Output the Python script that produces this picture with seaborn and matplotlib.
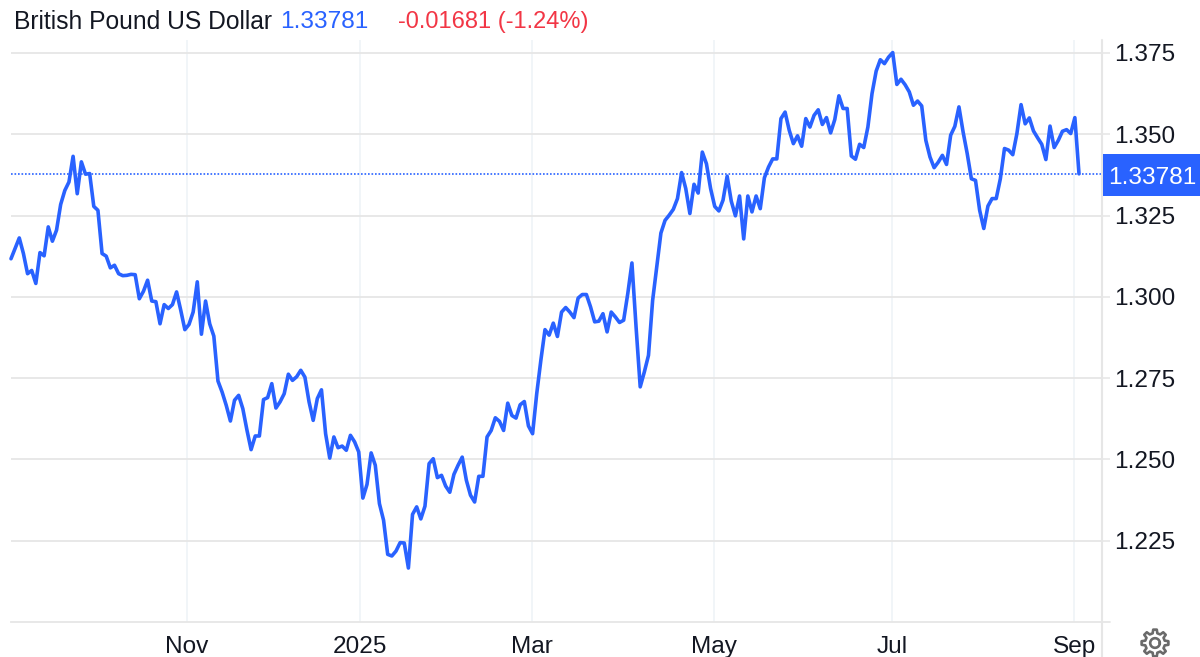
import numpy as np
import pandas as pd
import matplotlib
matplotlib.use("Agg")
import matplotlib.pyplot as plt
import matplotlib.patches as mpatches
from matplotlib.lines import Line2D
import seaborn as sns

title_name = "British Pound US Dollar"
last_price_text = "1.33781"
change_text = "-0.01681 (-1.24%)"
last_price = 1.33781

month_labels = ["Nov", "2025", "Mar", "May", "Jul", "Sep"]
month_index = [42.5, 84.3, 125.9, 169.8, 212.8, 256.8]
y_ticks = [1.225, 1.250, 1.275, 1.300, 1.325, 1.350, 1.375]

prices_autumn = [
    1.3117, 1.3149, 1.3181, 1.3133, 1.3071, 1.3081, 1.3041, 1.3136, 1.3126, 1.3215, 1.3171,
    1.3205, 1.3284, 1.3327, 1.3353, 1.3432, 1.3317, 1.3415, 1.3377, 1.3379, 1.3278,
    1.3266, 1.3133, 1.3125, 1.3089, 1.3097, 1.3071, 1.3065, 1.3066, 1.3069, 1.3068,
    1.2994, 1.3017, 1.3051, 1.2987, 1.2985, 1.2917, 1.2976, 1.2964, 1.2976, 1.3015,
    1.2959, 1.2899, 1.2915, 1.2953, 1.3046, 1.2885, 1.2987, 1.2917, 1.2879, 1.2741,
    1.2707, 1.2666, 1.2618, 1.2682, 1.2697, 1.2656, 1.2590, 1.2530, 1.2572, 1.2572,
    1.2684, 1.2690, 1.2733, 1.2658, 1.2677, 1.2702, 1.2762, 1.2743, 1.2754, 1.2774,
]
prices_winter = [
    1.2753, 1.2677, 1.2620, 1.2687, 1.2714, 1.2579, 1.2504, 1.2569, 1.2536, 1.2541,
    1.2528, 1.2574, 1.2554, 1.2523, 1.2381, 1.2423, 1.2520, 1.2482, 1.2364, 1.2313,
    1.2208, 1.2203, 1.2218, 1.2244, 1.2243, 1.2166, 1.2331, 1.2354, 1.2317, 1.2356,
    1.2487, 1.2502, 1.2444, 1.2451, 1.2418, 1.2399, 1.2454, 1.2482, 1.2507, 1.2436,
    1.2390, 1.2369, 1.2448, 1.2448, 1.2569, 1.2589, 1.2628, 1.2617, 1.2589, 1.2673,
    1.2635, 1.2627, 1.2668, 1.2678, 1.2603, 1.2579, 1.2702, 1.2805, 1.2899, 1.2882,
    1.2919, 1.2878, 1.2953, 1.2967, 1.2953, 1.2936, 1.2996, 1.3007, 1.3007, 1.2969,
    1.2923, 1.2925, 1.2948, 1.2892, 1.2953, 1.2938, 1.2921,
]
prices_spring = [
    1.2928, 1.3010, 1.3104, 1.2907, 1.2723, 1.2769, 1.2820, 1.2989, 1.3092, 1.3196,
    1.3235, 1.3251, 1.3269, 1.3302, 1.3382, 1.3333, 1.3256, 1.3346, 1.3319, 1.3445,
    1.3409, 1.3333, 1.3278, 1.3264, 1.3297, 1.3371, 1.3294, 1.3249, 1.3310, 1.3178,
    1.3310, 1.3261, 1.3310, 1.3271, 1.3366, 1.3399, 1.3424, 1.3424, 1.3548, 1.3568,
    1.3512, 1.3471, 1.3495, 1.3463, 1.3548, 1.3522, 1.3558, 1.3575, 1.3530, 1.3551,
    1.3504, 1.3545, 1.3618, 1.3579, 1.3579, 1.3433, 1.3423, 1.3469, 1.3459, 1.3522,
    1.3625, 1.3694, 1.3729, 1.3717, 1.3737, 1.3751, 1.3653, 1.3669, 1.3652, 1.3630,
    1.3589, 1.3602,
]
prices_summer = [
    1.3587, 1.3481, 1.3430, 1.3397, 1.3414, 1.3435, 1.3407, 1.3497, 1.3524, 1.3584,
    1.3507, 1.3440, 1.3363, 1.3358, 1.3266, 1.3210, 1.3279, 1.3302, 1.3302, 1.3363,
    1.3456, 1.3451, 1.3437, 1.3502, 1.3591, 1.3532, 1.3550, 1.3510, 1.3489, 1.3469,
    1.3422, 1.3525, 1.3459, 1.3481, 1.3509, 1.3514, 1.3502, 1.3551, 1.33781,
]
prices = prices_autumn + prices_winter + prices_spring + prices_summer
df = pd.DataFrame({"step": np.arange(len(prices)), "price": prices})

BLUE = "#2962ff"
RED = "#f23645"
GRID_H = "#e6e6e6"
GRID_V = "#eef3f6"
INK = "#131722"
FS = 17.6
W, H = 1200, 657

sns.set_theme(style="white")
plt.rcParams["font.family"] = ["Liberation Sans", "DejaVu Sans"]

fig = plt.figure(figsize=(W / 100, H / 100), dpi=100, facecolor="white")
L, R, T, B = 11, 1102, 40, 622
ax = fig.add_axes([L / W, 1 - B / H, (R - L) / W, (B - T) / H])

sns.lineplot(data=df, x="step", y="price", color=BLUE, lw=2.6, ax=ax, zorder=4,
             solid_joinstyle="round", solid_capstyle="round", clip_on=False)

n = len(prices) - 1
ax.set_xlim(0, n * (R - L) / 1068)
ax.set_ylim(1.2, 1.2 + (B - T) * 0.025 / 81.3)
ax.set_xlabel("")
ax.set_ylabel("")

ax.set_xticks(month_index)
ax.set_xticklabels(month_labels)
ax.yaxis.tick_right()
ax.set_yticks(y_ticks)
ax.set_yticklabels([f"{v:.3f}" for v in y_ticks])

ax.grid(axis="y", color=GRID_H, lw=1.3)
ax.grid(axis="x", color=GRID_V, lw=1.1)
ax.set_axisbelow(True)
ax.tick_params(axis="y", length=6, width=1.1, color=GRID_H, labelsize=FS,
               labelcolor=INK, pad=3)
ax.tick_params(axis="x", length=0, labelsize=FS, labelcolor=INK, pad=10)

for s in ["top", "left"]:
    ax.spines[s].set_visible(False)
ax.spines["bottom"].set_color(GRID_H)
ax.spines["bottom"].set_linewidth(1.3)
ax.spines["right"].set_visible(False)

ax.axhline(last_price, color=BLUE, lw=1.2, ls=(0, (1, 1.1)), zorder=3)

# right-hand axis rule runs on below the plot
fig.add_artist(Line2D([R / W, R / W], [0, 1 - T / H], color=GRID_H, lw=1.5))
fig.add_artist(Line2D([R / W, 1110 / W], [1 - B / H, 1 - B / H], color=GRID_H, lw=1.3))

# last-price badge
y_last = ax.transData.transform((0, last_price))[1] / H
fig.add_artist(mpatches.Rectangle((1103 / W, y_last - 22 / H), 97 / W, 42 / H,
                                  transform=fig.transFigure, color=BLUE, lw=0, zorder=5))
fig.text(1152 / W, y_last - 4 / H, last_price_text, color="white", fontsize=FS,
         ha="center", va="center", zorder=6)

# header
y_head = 1 - 22 / H
fig.text(14 / W, y_head, title_name, color=INK, fontsize=17.75, va="center")
fig.text(280 / W, y_head, last_price_text, color=BLUE, fontsize=FS, va="center")
fig.text(398 / W, y_head, change_text, color=RED, fontsize=17.0, va="center")

# settings gear icon (outline)
cx, cy = 1155, 643
teeth = 8
angles, radii = [], []
for k in range(teeth):
    a0 = 2 * np.pi * k / teeth
    w = 2 * np.pi / teeth
    angles += [a0 - 0.30 * w, a0 - 0.17 * w, a0 + 0.17 * w, a0 + 0.30 * w]
    radii += [10.0, 13.5, 13.5, 10.0]
gx = (cx + np.array(radii) * np.cos(angles)) / W
gy = 1 - (cy + np.array(radii) * np.sin(angles)) / H
fig.add_artist(mpatches.Polygon(np.column_stack([gx, gy]), closed=True, fill=False,
                                edgecolor="#6a6a6a", lw=1.9, transform=fig.transFigure,
                                joinstyle="round"))
theta = np.linspace(0, 2 * np.pi, 60)
fig.add_artist(Line2D((cx + 4.8 * np.cos(theta)) / W, 1 - (cy + 4.8 * np.sin(theta)) / H,
                      color="#6a6a6a", lw=1.9))

fig.savefig("out.png", dpi=100, facecolor="white")
